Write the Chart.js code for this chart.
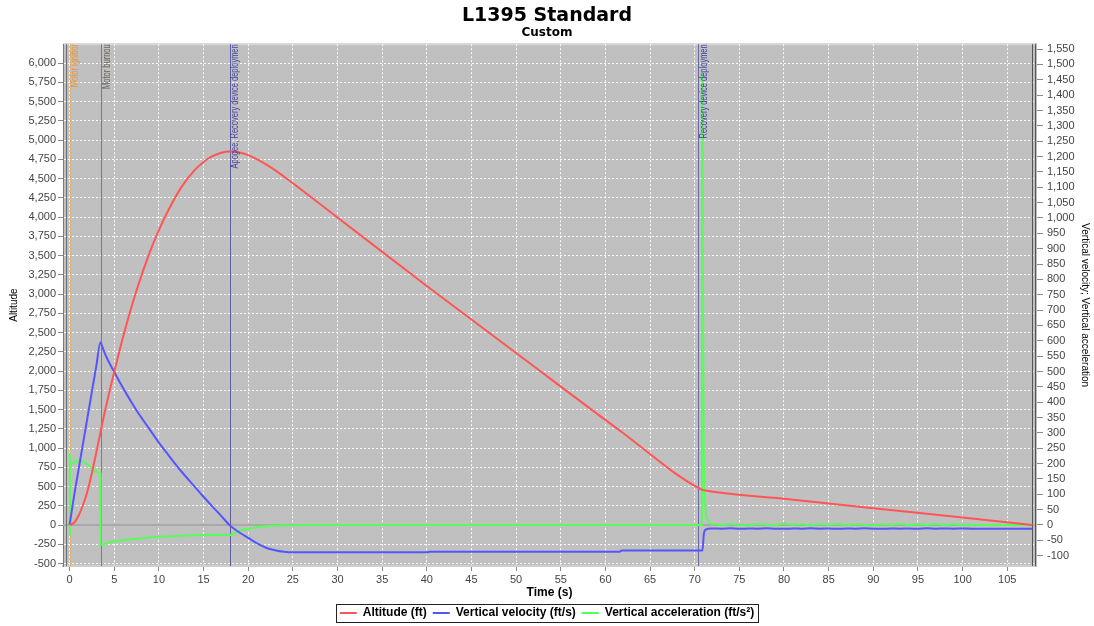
<!DOCTYPE html>
<html>
<head>
<meta charset="utf-8">
<title>L1395 Standard</title>
<script src="https://cdn.jsdelivr.net/npm/chart.js@4.4.1/dist/chart.umd.min.js"></script>
<style>
  html, body { margin: 0; padding: 0; background: #fff; }
  #wrap { position: relative; width: 1094px; height: 626px; }
</style>
</head>
<body>
<div id="wrap"><canvas id="chart"></canvas></div>
<script>
// altitude (ft) over time (s)
const altTime = [0, 0.5, 1, 1.5, 2, 2.5, 3, 3.5, 4, 5, 6, 7.5, 9, 10, 11, 12.5, 14, 15, 16, 17, 17.9,
  19, 20, 21, 22, 23, 24, 25, 30, 40, 50, 61.6, 70.8, 71.2, 80, 90, 100, 107.8];
const altFt = [0, 30, 120, 260, 440, 680, 950, 1230, 1500, 1990, 2450, 3050, 3550, 3830, 4075, 4385, 4610, 4715, 4790, 4835, 4850,
  4838, 4805, 4750, 4685, 4610, 4525, 4440, 3995, 3105, 2235, 1228, 460, 448, 340, 218, 97, 0];

// vertical velocity (ft/s)
const velTime = [0, 0.5, 1, 1.5, 2, 2.5, 3, 3.45, 3.7, 4, 5, 6, 7.5, 9, 10, 11, 12.5, 14, 15, 16, 17, 17.9,
  18.5, 19.1, 20, 21, 22, 23, 24, 25, 40.1, 40.3, 61.6, 61.8, 70.85, 70.95, 71.0, 71.1, 71.3, 71.8,
  72, 73, 74, 75, 76, 77, 78, 79, 80, 81, 82, 83, 84, 85, 86, 87, 88, 89, 90, 91, 92, 93, 94, 95, 96, 97,
  98, 99, 100, 101, 102, 103, 104, 105, 106, 107, 107.8];
const velFts = [0, 95, 180, 265, 350, 435, 520, 595, 578, 555, 498, 445, 373, 310, 268, 230, 175, 125, 92, 60, 29, 0,
  -14, -26, -42, -60, -74, -82, -87, -89, -89, -87, -87, -83.5, -83.5, -60, -35, -20, -14, -11.5,
  -11.5, -12, -11, -12.5, -11.5, -12, -11, -12, -12.5, -11.5, -12, -11, -12, -11.5, -12.5, -11.5, -12, -11, -12, -12.5,
  -11.5, -12, -11.5, -12.5, -11, -12, -11.5, -12, -11.5, -12, -12, -12, -12, -12, -12, -12, -12];

// vertical acceleration (ft/s²)
const accTime = [0, 0.03, 0.06, 0.15, 0.5, 1.1, 1.5, 2.1, 2.5, 2.8, 3.0, 3.2, 3.42, 3.48, 4, 5, 7.5, 10, 12.5, 15,
  17.3, 17.9, 18.5, 19.1, 20, 21.3, 23, 25, 26, 70.8, 70.86, 70.92, 71.0, 71.1, 71.25, 71.5, 71.8,
  72, 73, 74, 75, 76, 77, 78, 79, 80, 81, 82, 83, 84, 85, 86, 87, 88, 89, 90, 91, 92, 93, 94, 95, 96, 97,
  98, 99, 100, 101, 107.8];
const accFts2 = [-32, 234, 195, 198, 203, 212, 206, 195, 186, 173, 177, 172, 170, -65, -61, -53, -45, -38, -35, -33,
  -32, -34, -27, -18, -13, -6, -2, -0.5, 0, 0, 1470, 900, 250, 90, 35, 12, 4,
  3, -1, 4, 0, -2, 3, 1, -1, 5, 0, 2, -2, 3, 0, 4, -1, 2, 1, -2, 3, 0, 4, -1, 2, 0, 3,
  -1, 2, 0, 0, 0];

// tick values
const timeTicks = [0, 5, 10, 15, 20, 25, 30, 35, 40, 45, 50, 55, 60, 65, 70, 75, 80, 85, 90, 95, 100, 105];
const altitudeTicks = [-500, -250, 0, 250, 500, 750, 1000, 1250, 1500, 1750, 2000, 2250, 2500, 2750, 3000,
  3250, 3500, 3750, 4000, 4250, 4500, 4750, 5000, 5250, 5500, 5750, 6000];
const rightTicks = [-100, -50, 0, 50, 100, 150, 200, 250, 300, 350, 400, 450, 500, 550, 600, 650, 700, 750,
  800, 850, 900, 950, 1000, 1050, 1100, 1150, 1200, 1250, 1300, 1350, 1400, 1450, 1500, 1550];

// flight events
const eventTimes = [-0.35, 0, 3.55, 17.92, 70.4, 107.77, 108.1];
const eventLabels = ['', 'Motor ignition', 'Motor burnout', 'Apogee, Recovery device deployment',
  'Recovery device deployment', '', ''];

const eventStyles = [
  { line: '#6e6e6e', text: '#6e6e6e' },
  { line: '#f0a040', text: '#e8963a', dash: [2, 2] },
  { line: '#857a6e', text: '#6a6158' },
  { line: '#5e5e9e', text: '#4646a0' },
  { line: '#6a6aa6', text: '#4040a8' },
  { line: '#555555', text: '#555555' },
  { line: '#555555', text: '#555555' }
];

const SANS = "'Liberation Sans', Arial, sans-serif";
const TICK_FONT = { family: SANS, size: 11 };

const toPoints = (xs, ys) => xs.map((x, i) => ({ x, y: ys[i] }));
const fixedTicks = (values) => (scale) => { scale.ticks = values.map((value) => ({ value })); };

const plotBackground = {
  id: 'plotBackground',
  beforeDraw(chart) {
    const { ctx, chartArea: a } = chart;
    ctx.save();
    ctx.fillStyle = '#c0c0c0';
    ctx.fillRect(a.left, a.top, a.right - a.left, a.bottom - a.top);
    ctx.fillStyle = '#d4d4d4';
    ctx.fillRect(a.left, a.top - 1, a.right - a.left, 2);
    ctx.restore();
  }
};

const eventLines = {
  id: 'eventLines',
  beforeDatasetsDraw(chart) {
    const { ctx, chartArea: a, scales } = chart;
    ctx.save();
    // zero line of the altitude axis
    const y0 = Math.round(scales.y.getPixelForValue(0));
    ctx.strokeStyle = '#a9a9a9';
    ctx.lineWidth = 2;
    ctx.beginPath();
    ctx.moveTo(a.left, y0);
    ctx.lineTo(a.right, y0);
    ctx.stroke();
    eventTimes.forEach((t, i) => {
      const px = Math.round(scales.x.getPixelForValue(t)) + 0.5;
      ctx.strokeStyle = eventStyles[i].line;
      ctx.setLineDash(eventStyles[i].dash || []);
      ctx.lineWidth = 1;
      ctx.beginPath();
      ctx.moveTo(px, a.top);
      ctx.lineTo(px, a.bottom);
      ctx.stroke();
    });
    ctx.restore();
  },
  afterDatasetsDraw(chart) {
    const { ctx, chartArea: a, scales } = chart;
    ctx.save();
    ctx.beginPath();
    ctx.rect(a.left, a.top, a.right - a.left, a.bottom - a.top);
    ctx.clip();
    ctx.font = `10px ${SANS}`;
    ctx.textAlign = 'right';
    ctx.textBaseline = 'middle';
    eventTimes.forEach((t, i) => {
      if (!eventLabels[i]) return;
      const px = scales.x.getPixelForValue(t);
      ctx.save();
      ctx.translate(px + 5.5, a.top - 2);
      ctx.rotate(-Math.PI / 2);
      ctx.scale(0.75, 1); // narrow lettering
      ctx.fillStyle = eventStyles[i].text;
      ctx.fillText(eventLabels[i], 0, 0);
      ctx.restore();
    });
    ctx.restore();
  }
};

const legendBorder = {
  id: 'legendBorder',
  afterDraw(chart) {
    const boxes = chart.legend && chart.legend.legendHitBoxes;
    if (!boxes || !boxes.length) return;
    const first = boxes[0];
    const last = boxes[boxes.length - 1];
    const { ctx } = chart;
    const x1 = Math.round(first.left - 4) + 0.5;
    const x2 = Math.round(last.left + last.width + 4) + 0.5;
    const y1 = Math.round(first.top - 3) + 0.5;
    const y2 = Math.round(first.top + first.height + 3) + 0.5;
    ctx.save();
    ctx.strokeStyle = '#222';
    ctx.lineWidth = 1;
    ctx.strokeRect(x1, y1, x2 - x1, y2 - y1);
    ctx.restore();
  }
};

const gridStyle = {
  color: 'rgba(255,255,255,0.9)',
  lineWidth: 1,
  tickColor: '#8a8a8a',
  tickLength: 5
};

new Chart(document.getElementById('chart'), {
  type: 'line',
  data: {
    datasets: [
      {
        label: 'Altitude (ft)',
        data: toPoints(altTime, altFt),
        yAxisID: 'y',
        borderColor: 'rgb(255,85,85)',
        backgroundColor: 'rgb(255,85,85)',
        borderWidth: 2,
        pointRadius: 0,
        cubicInterpolationMode: 'monotone'
      },
      {
        label: 'Vertical velocity (ft/s)',
        data: toPoints(velTime, velFts),
        yAxisID: 'y2',
        borderColor: 'rgb(85,85,255)',
        backgroundColor: 'rgb(85,85,255)',
        borderWidth: 2,
        pointRadius: 0,
        cubicInterpolationMode: 'monotone'
      },
      {
        label: 'Vertical acceleration (ft/s²)',
        data: toPoints(accTime, accFts2),
        yAxisID: 'y2',
        borderColor: 'rgb(85,255,85)',
        backgroundColor: 'rgb(85,255,85)',
        borderWidth: 2,
        pointRadius: 0,
        tension: 0
      }
    ]
  },
  options: {
    responsive: true,
    maintainAspectRatio: false,
    animation: false,
    locale: 'en-US',
    layout: { padding: { bottom: -3 } },
    plugins: {
      title: {
        display: true,
        text: 'L1395 Standard',
        color: '#000',
        font: { family: "'DejaVu Sans', sans-serif", size: 19, weight: 'bold' },
        padding: { top: 5, bottom: -2 }
      },
      subtitle: {
        display: true,
        text: 'Custom',
        color: '#000',
        font: { family: "'DejaVu Sans', sans-serif", size: 12, weight: 'bold' },
        padding: { top: 0, bottom: 4 }
      },
      legend: {
        position: 'bottom',
        labels: {
          usePointStyle: true,
          pointStyle: 'line',
          pointStyleWidth: 17,
          color: '#000',
          font: { family: SANS, size: 12, weight: 'bold' },
          padding: 6
        }
      },
      tooltip: { enabled: false }
    },
    scales: {
      x: {
        type: 'linear',
        min: -0.74,
        max: 108.22,
        afterFit: (s) => { s.height = 35; },
        afterBuildTicks: fixedTicks(timeTicks),
        ticks: { font: TICK_FONT, color: '#444', padding: 2, maxRotation: 0, autoSkip: false },
        grid: gridStyle,
        border: { display: true, color: '#cfcfcf', width: 2, dash: [2, 2] },
        title: {
          display: true,
          text: 'Time (s)',
          color: '#000',
          font: { family: SANS, size: 12, weight: 'bold' },
          padding: { top: 0, bottom: 1 }
        }
      },
      y: {
        type: 'linear',
        position: 'left',
        min: -532,
        max: 6245,
        afterFit: (s) => { s.width = 63; },
        afterBuildTicks: fixedTicks(altitudeTicks),
        ticks: { font: TICK_FONT, color: '#444', padding: 2, autoSkip: false },
        grid: gridStyle,
        border: { display: true, color: '#7a7a7a', width: 1, dash: [2, 2] },
        title: {
          display: true,
          text: 'Altitude',
          color: '#000',
          font: { family: SANS, size: 10 },
          padding: { top: 8, bottom: 0 }
        }
      },
      y2: {
        type: 'linear',
        position: 'right',
        min: -133.6,
        max: 1566,
        afterFit: (s) => { s.width = 58; },
        afterBuildTicks: fixedTicks(rightTicks),
        ticks: { font: TICK_FONT, color: '#444', padding: 4, autoSkip: false },
        grid: { drawOnChartArea: false, tickColor: '#8a8a8a', tickLength: 7 },
        border: { display: true, color: '#bdbdbd', width: 2 },
        title: {
          display: true,
          text: 'Vertical velocity; Vertical acceleration',
          color: '#000',
          font: { family: SANS, size: 10 },
          padding: { top: 3, bottom: 0 }
        }
      }
    }
  },
  plugins: [plotBackground, eventLines, legendBorder]
});
</script>
</body>
</html>
